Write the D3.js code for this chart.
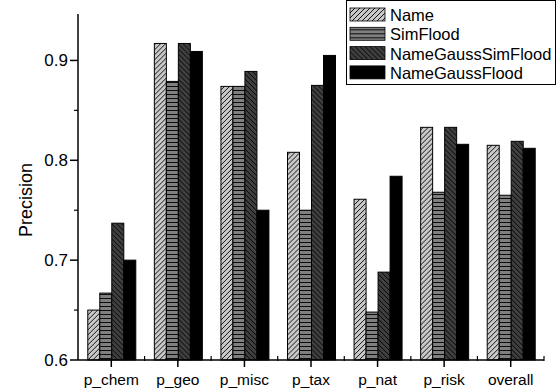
<!DOCTYPE html>
<html>
<head>
<meta charset="utf-8">
<script src="https://cdn.jsdelivr.net/npm/d3@7"></script>
<style>
  body { margin: 0; background: #fff; }
  text { font-family: Arial, "Liberation Sans", sans-serif; }
</style>
</head>
<body>
<div id="chart"></div>
<script>
// categories and series
const categories = ["p_chem", "p_geo", "p_misc", "p_tax", "p_nat", "p_risk", "overall"]
const seriesNames = ["Name", "SimFlood", "NameGaussSimFlood", "NameGaussFlood"]
const nameVals = [0.650, 0.917, 0.874, 0.808, 0.761, 0.833, 0.815]
const simFloodVals = [0.667, 0.879, 0.874, 0.750, 0.648, 0.768, 0.765]
const ngsfVals = [0.737, 0.917, 0.889, 0.875, 0.688, 0.833, 0.819]
const ngfVals = [0.700, 0.909, 0.750, 0.905, 0.784, 0.816, 0.812]
const yTicks = [0.6, 0.7, 0.8, 0.9]

const seriesVals = [nameVals, simFloodVals, ngsfVals, ngfVals]

const width = 560
const height = 392
const margin = { top: 14, right: 16, bottom: 32, left: 78 }

const svg = d3.select("#chart")
  .append("svg")
  .attr("width", width)
  .attr("height", height)

// Patterns for the bars
const defs = svg.append("defs")

function addPattern(id, bg, lineD, size) {
  const p = defs.append("pattern")
    .attr("id", id)
    .attr("patternUnits", "userSpaceOnUse")
    .attr("width", size)
    .attr("height", size)
  p.append("rect").attr("width", size).attr("height", size).attr("fill", bg)
  if (lineD) {
    p.append("path").attr("d", lineD).attr("stroke", "#000").attr("stroke-width", 0.9).attr("fill", "none")
  }
}
addPattern("pName", "#c8c8c8", "M0,5 L5,0 M-1,1 L1,-1 M4,6 L6,4", 5)
addPattern("pSim", "#7f7f7f", "M0,2.5 L4,2.5", 4)
addPattern("pNgsf", "#3f3f3f", "M0,0 L5,5 M-1,4 L1,6 M4,-1 L6,1", 5)
addPattern("pNgf", "#000", null, 5)

const fills = ["url(#pName)", "url(#pSim)", "url(#pNgsf)", "url(#pNgf)"]

// Scales
const x = d3.scaleBand()
  .domain(categories)
  .range([margin.left, width - margin.right])

const xInner = d3.scaleBand()
  .domain(seriesNames)
  .range([0, 48])

const y = d3.scaleLinear()
  .domain([0.6, 0.9465])
  .range([height - margin.bottom, margin.top])

// Bars
const groups = svg.append("g")
  .selectAll("g")
  .data(categories)
  .join("g")
  .attr("transform", d => `translate(${x(d) + (x.bandwidth() - 48) / 2 + 0.5},0)`)

groups.selectAll("rect")
  .data((d, i) => seriesNames.map((s, j) => ({ s: s, j: j, v: seriesVals[j][i] })))
  .join("rect")
  .attr("x", d => xInner(d.s))
  .attr("y", d => y(d.v))
  .attr("width", xInner.bandwidth())
  .attr("height", d => y(0.6) - y(d.v))
  .attr("fill", d => fills[d.j])
  .attr("stroke", "#000")
  .attr("stroke-width", 1)

// Y axis
const yAxis = svg.append("g")
  .attr("transform", `translate(${margin.left},0)`)
yAxis.append("line")
  .attr("x1", 0).attr("x2", 0)
  .attr("y1", y(0.6)).attr("y2", margin.top)
  .attr("stroke", "#000").attr("stroke-width", 1.5)
yAxis.selectAll(".major")
  .data(yTicks)
  .join("line")
  .attr("class", "major")
  .attr("x1", -8).attr("x2", 0)
  .attr("y1", d => y(d)).attr("y2", d => y(d))
  .attr("stroke", "#000").attr("stroke-width", 1.5)
yAxis.selectAll(".minor")
  .data([0.65, 0.75, 0.85])
  .join("line")
  .attr("class", "minor")
  .attr("x1", -4).attr("x2", 0)
  .attr("y1", d => y(d)).attr("y2", d => y(d))
  .attr("stroke", "#000").attr("stroke-width", 1.2)
yAxis.selectAll("text")
  .data(yTicks)
  .join("text")
  .attr("x", -10)
  .attr("y", d => y(d) + 6)
  .attr("text-anchor", "end")
  .style("font-size", "17px")
  .text(d => d3.format(".1f")(d))

// X axis
const xAxis = svg.append("g")
  .attr("transform", `translate(0,${y(0.6)})`)
xAxis.append("line")
  .attr("x1", margin.left).attr("x2", width - margin.right)
  .attr("stroke", "#000").attr("stroke-width", 1.5)
xAxis.selectAll(".major")
  .data(categories)
  .join("line")
  .attr("class", "major")
  .attr("x1", d => x(d) + x.bandwidth() / 2).attr("x2", d => x(d) + x.bandwidth() / 2)
  .attr("y1", 0).attr("y2", 7)
  .attr("stroke", "#000").attr("stroke-width", 1.5)
xAxis.selectAll(".minor")
  .data(categories)
  .join("line")
  .attr("class", "minor")
  .attr("x1", d => x(d) + x.bandwidth())
  .attr("x2", d => x(d) + x.bandwidth())
  .attr("y1", -4).attr("y2", 1)
  .attr("stroke", "#000").attr("stroke-width", 1.2)
xAxis.selectAll("text")
  .data(categories)
  .join("text")
  .attr("x", d => x(d) + x.bandwidth() / 2)
  .attr("y", 25)
  .attr("text-anchor", "middle")
  .style("font-size", "15.5px")
  .text(d => d)

// Y label
svg.append("text")
  .attr("transform", `translate(32,200) rotate(-90)`)
  .attr("text-anchor", "middle")
  .style("font-size", "18px")
  .text("Precision")

// Legend
const legend = svg.append("g")
  .attr("transform", "translate(346,0)")
legend.append("rect")
  .attr("x", 0.5).attr("y", 0.5)
  .attr("width", 209).attr("height", 84)
  .attr("fill", "#fff")
  .attr("stroke", "#000").attr("stroke-width", 1)

const legendItems = legend.selectAll("g")
  .data(seriesNames)
  .join("g")
  .attr("transform", (d, i) => `translate(4,${8 + i * 19.3})`)
legendItems.append("rect")
  .attr("width", 35)
  .attr("height", 13)
  .attr("fill", (d, i) => fills[i])
  .attr("stroke", "#000")
  .attr("stroke-width", 0.8)
legendItems.append("text")
  .attr("x", 40)
  .attr("y", 13)
  .style("font-size", "16.5px")
  .text(d => d)
</script>
</body>
</html>
